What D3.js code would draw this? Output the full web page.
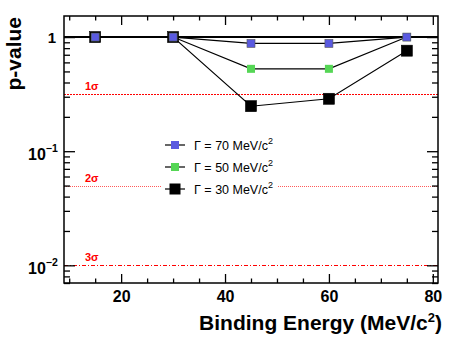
<!DOCTYPE html>
<html lang="en">
<head>
<meta charset="UTF-8">
<title>p-value</title>
<style>
  body { margin:0; background:#fff; }
  svg { display:block; font-family:"Liberation Sans", Arial, sans-serif; }
</style>
</head>
<body>
<svg width="463" height="338"></svg>
<script src="https://cdn.jsdelivr.net/npm/d3@7"></script>
<script>
// data
const energies = [15, 30, 45, 60, 75]
const gamma70 = [1.0, 1.0, 0.88, 0.88, 1.0]
const gamma50 = [1.0, 1.0, 0.527, 0.527, 1.0]
const gamma30 = [1.0, 1.0, 0.248, 0.288, 0.76]
const seriesNames = ["70", "50", "30"]
const sigmaLabels = ["1σ", "2σ", "3σ"]
const sigmaValues = [0.32, 0.05, 0.01]
const xTicks = [20, 40, 60, 80]

const svg = d3.select("svg")
const pL = 64, pR = 438, pT = 16, pB = 283

const x = d3.scaleLinear().domain([9, 81]).range([pL, pR])
const y = d3.scaleLog().domain([0.007, 1.53]).range([pB, pT])
const snap = v => Math.round(v) + 0.5

// sigma reference lines
const sigmaStyle = [
  { dash: "2,1", w: 1, c: "#ff0000" },
  { dash: "1,1", w: 1, c: "#ff5a5a" },
  { dash: "4,2,1,2", w: 1, c: "#ff0000" }
]
sigmaValues.forEach((v, i) => {
  svg.append("line")
    .attr("x1", pL).attr("x2", pR)
    .attr("y1", snap(y(v))).attr("y2", snap(y(v)))
    .attr("stroke", sigmaStyle[i].c)
    .attr("stroke-width", sigmaStyle[i].w)
    .attr("stroke-dasharray", sigmaStyle[i].dash)
  svg.append("text")
    .attr("x", 85).attr("y", y(v) - 4)
    .attr("fill", "#ff0000")
    .attr("font-size", 11).attr("font-weight", "bold")
    .text(sigmaLabels[i])
})

// p = 1 line
svg.append("line")
  .attr("x1", pL).attr("x2", pR)
  .attr("y1", y(1)).attr("y2", y(1))
  .attr("stroke", "#000").attr("stroke-width", 2)

const series = [
  { vals: gamma30, color: "#000000", size: 11, stroke: "#000" },
  { vals: gamma50, color: "#55d655", size: 8, stroke: "none" },
  { vals: gamma70, color: "#5a5ae0", size: 8, stroke: "#555" }
]
const line = d3.line().x((d, i) => x(energies[i])).y(d => y(d))

series.forEach(s => {
  svg.append("path")
    .attr("d", line(s.vals))
    .attr("fill", "none").attr("stroke", "#000").attr("stroke-width", 1.1)
})
series.forEach(s => {
  svg.selectAll(null).data(s.vals).enter().append("rect")
    .attr("x", (d, i) => x(energies[i]) - s.size / 2)
    .attr("y", d => y(d) - s.size / 2)
    .attr("width", s.size).attr("height", s.size)
    .attr("fill", s.color)
    .attr("stroke", s.stroke).attr("stroke-width", s.stroke == "none" ? 0 : 0.6)
})

// legend
const legend = svg.append("g")
legend.append("rect").attr("x", 162).attr("y", 134).attr("width", 116).attr("height", 66).attr("fill", "#fff")
const legColors = ["#5a5ae0", "#55d655", "#000000"]
const legSize = [8, 8, 11]
seriesNames.forEach((n, i) => {
  const ly = 145 + i * 22
  legend.append("line").attr("x1", 165).attr("x2", 185).attr("y1", ly).attr("y2", ly)
    .attr("stroke", "#000").attr("stroke-width", 1.2)
  legend.append("rect")
    .attr("x", 175 - legSize[i] / 2).attr("y", ly - legSize[i] / 2)
    .attr("width", legSize[i]).attr("height", legSize[i])
    .attr("fill", legColors[i])
  const t = legend.append("text").attr("x", 194).attr("y", ly + 4.5).attr("font-size", 12.5)
  t.append("tspan").text("Γ = " + n + " MeV/c")
  t.append("tspan").attr("dy", -6).attr("font-size", 9).text("2")
})

// frame
svg.append("rect").attr("x", pL).attr("y", pT).attr("width", pR - pL).attr("height", pB - pT)
  .attr("fill", "none").attr("stroke", "#000").attr("stroke-width", 1.5)

// x axis ticks (bottom & top)
const xMinor = d3.range(10, 81, 5)
const xBottom = d3.axisBottom(x).tickValues(xMinor).tickSize(0).tickFormat("")
svg.append("g").attr("transform", `translate(0,${pB})`).call(xBottom)
  .call(g => g.select(".domain").remove())
  .call(g => g.selectAll(".tick line").attr("y2", d => d % 20 == 0 ? -9 : -4.5).attr("stroke-width", 1.3))
svg.append("g").attr("transform", `translate(0,${pT})`).call(xBottom)
  .call(g => g.select(".domain").remove())
  .call(g => g.selectAll(".tick line").attr("y2", d => d % 20 == 0 ? 9 : 4.5).attr("stroke-width", 1.3))
svg.append("g").attr("transform", `translate(0,${pB})`)
  .call(d3.axisBottom(x).tickValues(xTicks).tickSize(0).tickPadding(0))
  .call(g => g.select(".domain").remove())
  .call(g => g.selectAll("text").attr("dy", null).attr("y", 19).attr("font-size", 16).attr("font-weight", "bold")
    .attr("font-family", "Liberation Sans, Arial, sans-serif"))

// y axis ticks (left & right), log minors
const yTickVals = []
;[0.001, 0.01, 0.1, 1].forEach(dec => {
  for (let k = 1; k <= 9; k++) {
    const v = dec * k
    if (v >= 0.007 && v <= 1.53) yTickVals.push(v)
  }
})
const isMajor = v => Math.abs(Math.log10(v) - Math.round(Math.log10(v))) < 1e-6
const yAx = d3.axisLeft(y).tickValues(yTickVals).tickSize(0).tickFormat("")
svg.append("g").attr("transform", `translate(${pL},0)`).call(yAx)
  .call(g => g.select(".domain").remove())
  .call(g => g.selectAll(".tick line").attr("x2", d => isMajor(d) ? 11 : 6).attr("stroke-width", 1.3))
svg.append("g").attr("transform", `translate(${pR},0)`).call(yAx)
  .call(g => g.select(".domain").remove())
  .call(g => g.selectAll(".tick line").attr("x2", d => isMajor(d) ? -11 : -6).attr("stroke-width", 1.3))

// y labels
const yLab = svg.append("g").attr("font-size", 15).attr("font-weight", "bold")
yLab.append("text").attr("x", 56).attr("y", y(1) + 5.5).attr("text-anchor", "end").text("1")
;[-1, -2].forEach(p => {
  const t = yLab.append("text").attr("x", 28).attr("y", y(Math.pow(10, p)) + 9).attr("font-size", 16)
  t.append("tspan").text("10")
  t.append("tspan").attr("dy", -8).attr("font-size", 10.5).text("\u2212" + (-p))
})

// axis titles
svg.append("text").attr("transform", "translate(21,17) rotate(-90)")
  .attr("text-anchor", "end").attr("font-size", 21).attr("font-weight", "bold").text("p-value")
const xt = svg.append("text").attr("x", 442).attr("y", 330).attr("text-anchor", "end")
  .attr("font-size", 21).attr("font-weight", "bold")
xt.append("tspan").text("Binding Energy (MeV/c")
xt.append("tspan").attr("dy", -8).attr("font-size", 13).text("2")
xt.append("tspan").attr("dy", 8).text(")")
</script>
</body>
</html>
